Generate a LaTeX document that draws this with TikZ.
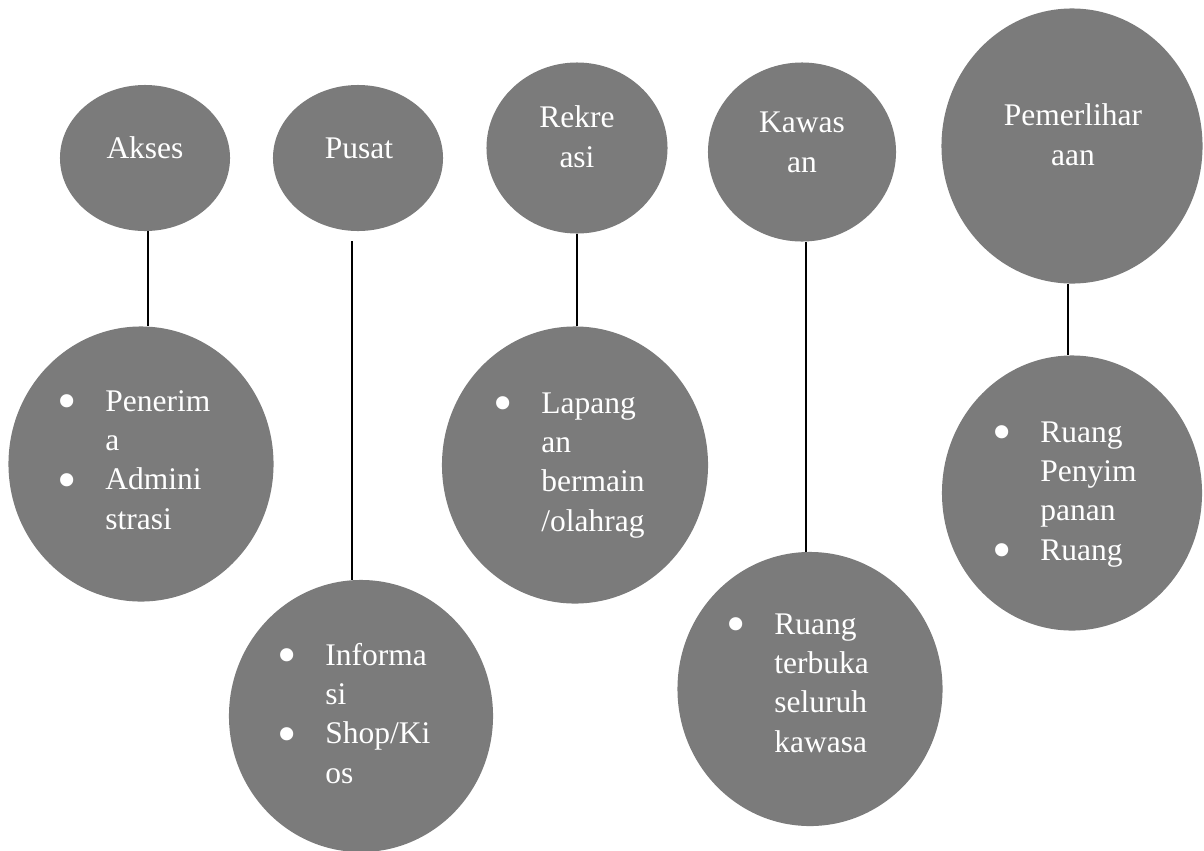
\documentclass[tikz,border=0pt]{standalone}
\usepackage{fontspec}
\setmainfont{Liberation Serif}
\usepackage{graphicx}
\usepackage{tikz}
\usetikzlibrary{shapes.geometric, positioning, calc}
\definecolor{bubGray}{HTML}{7B7B7B}
\newcommand{\bubfont}{\fontsize{22.4pt}{28pt}\selectfont}
\newcommand{\blt}{\raisebox{-0.21cm}{\scalebox{1.75}{\textbullet}}}

\begin{document}
\begin{tikzpicture}[
  x=0.025cm, y=-0.025cm,
  bubble/.style 2 args={ellipse, fill=bubGray, draw=none, inner sep=0pt,
                        minimum width=#1, minimum height=#2},
  head/.style={text=white, align=center, font=\bubfont, inner sep=0pt, anchor=base},
  items/.style={text=white, font=\bubfont, inner sep=0pt, anchor=base west},
  stem/.style={draw=black, line width=0.8pt},
]
\useasboundingbox (0,0) rectangle (1204,850);

% Row 1 — kelompok ruang
\node[bubble={4.25cm}{3.65cm}]   (akses)      at (145,158)  {};
\node[bubble={4.25cm}{3.65cm}]   (pusat)      at (358,158)  {};
\node[bubble={4.525cm}{4.275cm}] (rekreasi)   at (577,148)  {};
\node[bubble={4.7cm}{4.475cm}]   (kawasan)    at (802,152)  {};
\node[bubble={6.525cm}{6.875cm}] (pemeliharaan) at (1072,146) {};

% (base = last line)
\node[head] (aksesT)    at (145,158)  {Akses};
\node[head] (pusatT)    at (359,158)  {Pusat};
\node[head] (rekreasiT) at (577,167)  {Rekre\\asi};
\node[head] (kawasanT)  at (802,172)  {Kawas\\an};
\node[head] (pemelT)    at (1073,165) {Pemerlihar\\aan};

% Row 2 — isi ruang
\node[bubble={6.625cm}{6.875cm}] (penerima)  at (141,464)  {};
\node[bubble={6.6cm}{6.8cm}]     (informasi) at (361,716)  {};
\node[bubble={6.65cm}{6.925cm}]  (lapangan)  at (575,465)  {};
\node[bubble={6.625cm}{6.85cm}]  (terbuka)   at (810,689)  {};
\node[bubble={6.5cm}{6.875cm}]   (penyim)    at (1072,493) {};

\node[items] (penerimaT) at (57,411) {%
  \begin{tabular}[t]{@{}p{1.2cm}@{}l@{}}
    \blt & Penerim\\ & a\\ \blt & Admini\\ & strasi
  \end{tabular}};
\node[items] (informasiT) at (277,665) {%
  \begin{tabular}[t]{@{}p{1.2cm}@{}l@{}}
    \blt & Informa\\ & si\\ \blt & Shop/Ki\\ & os
  \end{tabular}};
\node[items] (lapanganT) at (493,413) {%
  \begin{tabular}[t]{@{}p{1.2cm}@{}l@{}}
    \blt & Lapang\\ & an\\ & bermain\\ & /olahrag
  \end{tabular}};
\node[items] (terbukaT) at (726,634) {%
  \begin{tabular}[t]{@{}p{1.2cm}@{}l@{}}
    \blt & Ruang\\ & terbuka\\ & seluruh\\ & kawasa
  \end{tabular}};
\node[items] (penyimT) at (992,442) {%
  \begin{tabular}[t]{@{}p{1.2cm}@{}l@{}}
    \blt & Ruang\\ & Penyim\\ & panan\\ \blt & Ruang
  \end{tabular}};

% stems
\draw[stem] ([xshift=0.075cm]akses.south) -- ([xshift=0.075cm]akses.south |- penerima.north);
\draw[stem] ([xshift=-0.15cm, yshift=-0.25cm]pusat.south) -- ([xshift=-0.15cm]pusat.south |- informasi.north);
\draw[stem] (rekreasi.south) -- (rekreasi.south |- lapangan.north);
\draw[stem] ([xshift=0.1cm]kawasan.south) -- ([xshift=0.1cm]kawasan.south |- terbuka.north);
\draw[stem] ([xshift=-0.1cm]pemeliharaan.south) -- ([xshift=-0.1cm]pemeliharaan.south |- penyim.north);
\end{tikzpicture}
\end{document}
